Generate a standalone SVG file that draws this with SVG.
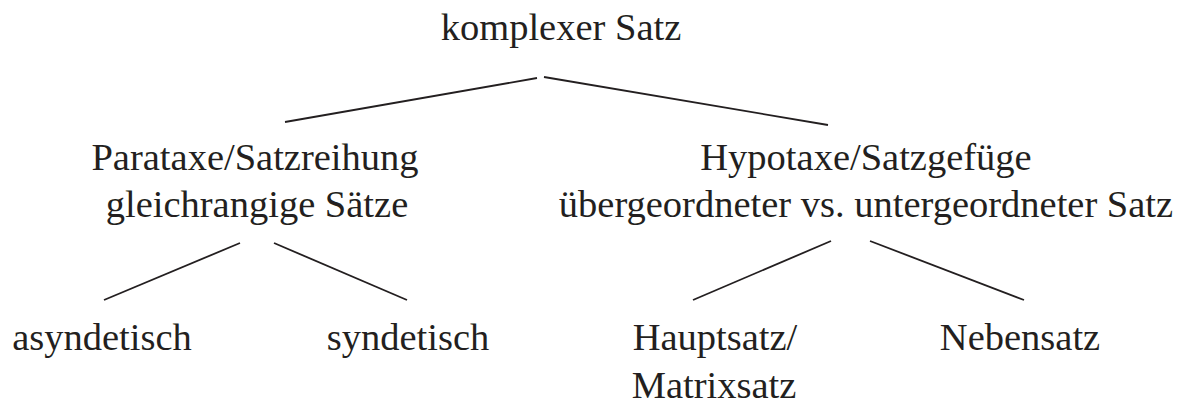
<svg xmlns="http://www.w3.org/2000/svg" width="1188" height="405" viewBox="0 0 1188 405">
<style>
text{font-family:"Liberation Serif","Times New Roman",serif;font-size:38.5px;fill:#231f20}
.c line{stroke:#231f20;stroke-width:1.8;fill:none}
</style>
<rect width="1188" height="405" fill="#fff"/>
<g class="c" id="connectors">
<line x1="537" y1="78" x2="285" y2="122"/>
<line x1="544" y1="77" x2="828" y2="125"/>
<line x1="240" y1="243" x2="104" y2="300"/>
<line x1="274" y1="243" x2="407" y2="300"/>
<line x1="831" y1="241" x2="693" y2="300"/>
<line x1="870" y1="241" x2="1024" y2="300"/>
</g>
<g id="root"><text x="561" y="40" text-anchor="middle">komplexer Satz</text></g>
<g id="parataxe"><text x="255" y="170" text-anchor="middle">Parataxe/Satzreihung</text><text x="257" y="217" text-anchor="middle">gleichrangige Sätze</text></g>
<g id="hypotaxe"><text x="866" y="170" text-anchor="middle">Hypotaxe/Satzgefüge</text><text x="866" y="217" text-anchor="middle">übergeordneter vs. untergeordneter Satz</text></g>
<g id="asyndetisch"><text x="102" y="350" text-anchor="middle">asyndetisch</text></g>
<g id="syndetisch"><text x="408" y="350" text-anchor="middle">syndetisch</text></g>
<g id="hauptsatz"><text x="715" y="350" text-anchor="middle">Hauptsatz/</text><text x="714" y="398" text-anchor="middle">Matrixsatz</text></g>
<g id="nebensatz"><text x="1020" y="350" text-anchor="middle">Nebensatz</text></g>
</svg>
